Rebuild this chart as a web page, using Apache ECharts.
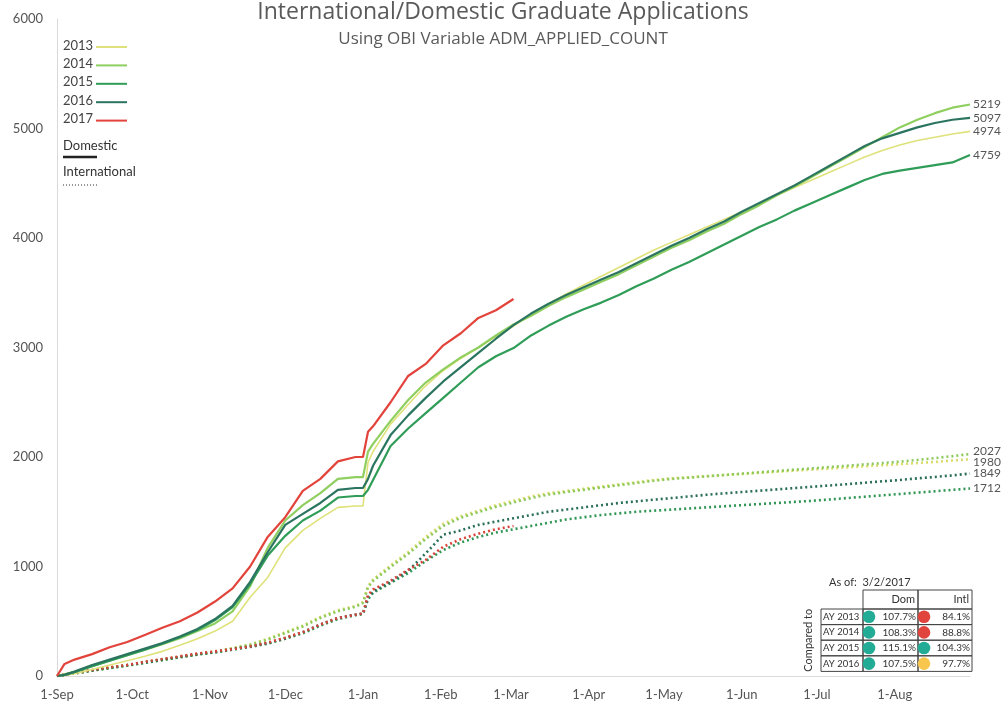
<!DOCTYPE html>
<html><head><meta charset="utf-8">
<script src="https://cdn.jsdelivr.net/npm/echarts@6/dist/echarts.min.js"></script>
<style>html,body{margin:0;padding:0;background:#fff}#c{width:1006px;height:709px}</style>
</head><body><div id="c"></div>
<script>
// ---- data ----
const days = [0,3,7,14,21,28,35,42,49,56,63,70,77,84,91,98,105,112,119,122,124,126,133,140,147,154,161,168,175,182,
  189,196,203,210,217,224,231,238,245,252,259,266,273,280,287,294,301,308,315,322,329,336,343,350,357,364];
const monthTicks = [0,30,61,91,122,153,181,212,242,273,303,334];
const monthLabels = ['1-Sep','1-Oct','1-Nov','1-Dec','1-Jan','1-Feb','1-Mar','1-Apr','1-May','1-Jun','1-Jul','1-Aug'];
const years = ['2013','2014','2015','2016','2017'];

const dom2013 = [0,5,20,60,100,140,180,225,280,340,410,500,720,900,1170,1330,1440,1540,1553,1553,1950,2050,2300,2480,2650,2790,2900,3000,3100,3195,
  3300,3400,3490,3570,3650,3730,3810,3890,3960,4030,4100,4170,4240,4310,4390,4460,4530,4600,4670,4740,4800,4850,4890,4920,4950,4974];
const dom2014 = [0,15,40,90,140,190,240,290,345,410,480,590,820,1170,1420,1560,1670,1800,1817,1817,2050,2120,2330,2520,2680,2800,2910,3000,3110,3210,
  3290,3380,3460,3530,3600,3670,3750,3830,3910,3980,4060,4130,4220,4300,4390,4470,4560,4650,4740,4830,4920,5010,5080,5140,5190,5219];
const dom2015 = [0,10,35,90,140,190,240,295,355,420,510,630,840,1100,1280,1420,1510,1630,1644,1644,1700,1790,2100,2260,2400,2540,2680,2820,2920,2995,
  3110,3200,3280,3350,3410,3480,3560,3630,3710,3780,3860,3940,4020,4100,4170,4250,4320,4390,4460,4530,4585,4615,4640,4665,4690,4759];
const dom2016 = [0,10,40,100,150,200,250,300,360,430,520,640,860,1130,1380,1480,1580,1700,1717,1717,1800,1920,2200,2380,2540,2690,2820,2950,3080,3205,
  3310,3400,3480,3550,3620,3690,3770,3850,3930,4000,4080,4150,4240,4320,4400,4480,4570,4660,4750,4840,4910,4960,5010,5050,5080,5097];
const dom2017 = [0,110,150,200,262,310,375,440,500,580,680,800,1000,1270,1450,1690,1800,1960,2000,2000,2230,2280,2500,2740,2850,3020,3130,3270,3340,3443];

const intl2013 = [0,10,25,50,75,100,125,150,175,200,225,255,290,340,400,460,540,600,640,676,820,880,1010,1130,1270,1390,1460,1510,1560,1600,
  1640,1670,1690,1710,1730,1750,1770,1790,1805,1815,1825,1835,1845,1855,1865,1875,1885,1895,1905,1915,1925,1935,1945,1955,1968,1980];
const intl2014 = [0,10,25,50,73,97,122,147,172,197,222,252,285,332,392,452,530,592,632,668,810,868,995,1115,1250,1370,1445,1497,1545,1585,
  1625,1657,1680,1700,1722,1742,1763,1783,1800,1812,1824,1836,1848,1860,1872,1884,1896,1908,1920,1932,1944,1958,1973,1990,2008,2027];
const intl2015 = [0,10,25,50,72,95,120,145,170,195,215,240,265,295,340,390,460,520,555,565,700,760,850,940,1050,1150,1220,1270,1310,1340,
  1370,1400,1430,1450,1470,1485,1500,1510,1520,1530,1540,1550,1560,1570,1580,1590,1600,1612,1625,1637,1650,1662,1675,1687,1700,1712];
const intl2016 = [0,10,25,50,75,100,125,150,175,200,220,245,270,300,345,400,470,530,560,570,720,770,860,960,1120,1290,1330,1380,1410,1440,
  1470,1500,1520,1540,1560,1580,1595,1610,1625,1640,1655,1668,1680,1692,1704,1716,1728,1740,1752,1765,1778,1790,1805,1818,1832,1849];
const intl2017 = [0,15,30,55,80,100,130,155,180,205,225,245,270,305,350,400,470,530,560,570,740,790,870,970,1060,1180,1250,1300,1340,1370];

const tableRows = ['AY 2013','AY 2014','AY 2015','AY 2016'];
const domPct = [107.7,108.3,115.1,107.5];
const intlPct = [84.1,88.8,104.3,97.7];
const asOfDate = '3/2/2017';

// ---- styling ----
const COLORS = ['#dfe27a','#8fcf5f','#2f9d58','#2b7560','#e2433b'];
const INTL_COLORS = ['#d9dc6a','#8cc95a','#2f9654','#2b6f5a','#d9433b'];
const FONT = 'Lato';
const TFONT = 'Open Sans';
const domData = [dom2013, dom2014, dom2015, dom2016, dom2017];
const intlData = [intl2013, intl2014, intl2015, intl2016, intl2017];
const intlOffsets = [[0,3],[0,-3],[0,0],[0,0],[0,0]];
const pair = arr => arr.map((v,i)=>[days[i], v]);

const series = [];
years.forEach((y,k)=>{
  series.push({
    name: y + ' International', type:'line', data: pair(intlData[k]), showSymbol:false, silent:true,
    lineStyle:{color:INTL_COLORS[k], width:2.6, type:[2,3], cap:'butt'}, itemStyle:{color:INTL_COLORS[k]}, z:2,
    endLabel: k<4 ? {show:true, formatter:p=>String(p.value[1]), color:'#555', fontSize:12, fontFamily:FONT, distance:3, offset:intlOffsets[k]} : {show:false}
  });
});
years.forEach((y,k)=>{
  series.push({
    name: y + ' Domestic', type:'line', data: pair(domData[k]), showSymbol:false, silent:true,
    lineStyle:{color:COLORS[k], width: k===0?1.6:2.2}, itemStyle:{color:COLORS[k]}, z:3,
    endLabel: k<4 ? {show:true, formatter:p=>String(p.value[1]), color:'#555', fontSize:12, fontFamily:FONT, distance:3} : {show:false}
  });
});

// ---- legend & table graphics ----
const graphic = [];
years.forEach((y,k)=>{
  const cy = 47 + k*18.4;
  graphic.push({type:'text', left:63, top:cy-8, style:{text:y, fill:'#444', font:'13px '+FONT}});
  graphic.push({type:'line', shape:{x1:96,y1:cy,x2:127,y2:cy}, style:{stroke:COLORS[k], lineWidth:2}});
});
graphic.push({type:'text', left:63, top:139, style:{text:'Domestic', fill:'#333', font:'13px '+FONT}});
graphic.push({type:'line', shape:{x1:63,y1:157,x2:97,y2:157}, style:{stroke:'#222', lineWidth:2.5}});
graphic.push({type:'text', left:63, top:165, style:{text:'International', fill:'#333', font:'13px '+FONT}});
graphic.push({type:'line', shape:{x1:63,y1:185,x2:97,y2:185}, style:{stroke:'#777', lineWidth:1.5, lineDash:[1,2]}});

// table
const tx0 = 821, tx1 = 863, tx2 = 918, tx3 = 972, hy0 = 590, hy1 = 609, rh = 15.6;
const border = {stroke:'#444', lineWidth:1, fill:'none'};
const pctColor = v => v >= 100 ? '#22ab95' : (v >= 95 ? '#f8c64c' : '#e0443c');
graphic.push({type:'text', left:829, top:577, style:{text:'As of:  ' + asOfDate, fill:'#333', font:'11px '+FONT}});
graphic.push({type:'rect', shape:{x:tx1,y:hy0,width:tx2-tx1,height:hy1-hy0}, style:border});
graphic.push({type:'rect', shape:{x:tx2,y:hy0,width:tx3-tx2,height:hy1-hy0}, style:border});
graphic.push({type:'text', x:tx2-3, y:(hy0+hy1)/2, style:{text:'Dom', fill:'#333', font:'11px '+FONT, align:'right', verticalAlign:'middle'}});
graphic.push({type:'text', x:tx3-3, y:(hy0+hy1)/2, style:{text:'Intl', fill:'#333', font:'11px '+FONT, align:'right', verticalAlign:'middle'}});
tableRows.forEach((r,i)=>{
  const y0 = hy1 + i*rh, cy = y0 + rh/2;
  graphic.push({type:'rect', shape:{x:tx0,y:y0,width:tx1-tx0,height:rh}, style:border});
  graphic.push({type:'rect', shape:{x:tx1,y:y0,width:tx2-tx1,height:rh}, style:border});
  graphic.push({type:'rect', shape:{x:tx2,y:y0,width:tx3-tx2,height:rh}, style:border});
  graphic.push({type:'text', x:tx0+2, y:cy, style:{text:r, fill:'#333', font:'9.5px '+FONT, verticalAlign:'middle'}});
  graphic.push({type:'circle', shape:{cx:tx1+6, cy:cy, r:6.3}, style:{fill:pctColor(domPct[i])}});
  graphic.push({type:'circle', shape:{cx:tx2+6, cy:cy, r:6.3}, style:{fill:pctColor(intlPct[i])}});
  graphic.push({type:'text', x:tx2-2, y:cy, style:{text:domPct[i].toFixed(1)+'%', fill:'#333', font:'10px '+FONT, align:'right', verticalAlign:'middle'}});
  graphic.push({type:'text', x:tx3-2, y:cy, style:{text:intlPct[i].toFixed(1)+'%', fill:'#333', font:'10px '+FONT, align:'right', verticalAlign:'middle'}});
});
graphic.push({type:'text', x:808, y:hy1 + 2*rh, rotation:Math.PI/2, style:{text:'Compared to', fill:'#333', font:'11px '+FONT, align:'center', verticalAlign:'middle'}});

const chart = echarts.init(document.getElementById('c'));
chart.setOption({
  animation:false,
  backgroundColor:'#fff',
  textStyle:{fontFamily:FONT},
  title:{
    text:'International/Domestic Graduate Applications',
    subtext:'Using OBI Variable ADM_APPLIED_COUNT',
    left:'center', top:-4, itemGap:7,
    textStyle:{fontFamily:TFONT, fontSize:23, fontWeight:'normal', color:'#5a5a5a'},
    subtextStyle:{fontFamily:TFONT, fontSize:17, color:'#5a5a5a'}
  },
  grid:{left:57, right:36, top:19, bottom:33, containLabel:false},
  xAxis:{
    type:'value', min:0, max:364,
    axisLine:{show:true, lineStyle:{color:'#d9d9d9'}},
    axisTick:{show:false},
    splitLine:{show:false},
    axisLabel:{customValues:monthTicks, formatter:v=>monthLabels[monthTicks.indexOf(v)] || '', color:'#555', fontSize:13, fontFamily:FONT, margin:12}
  },
  yAxis:{
    type:'value', min:0, max:6000, interval:1000,
    axisLine:{show:true, lineStyle:{color:'#d9d9d9'}},
    axisTick:{show:false},
    splitLine:{show:false},
    axisLabel:{formatter:v=>String(v), color:'#555', fontSize:13, fontFamily:FONT, margin:14}
  },
  series: series,
  graphic: graphic
});
</script></body></html>
